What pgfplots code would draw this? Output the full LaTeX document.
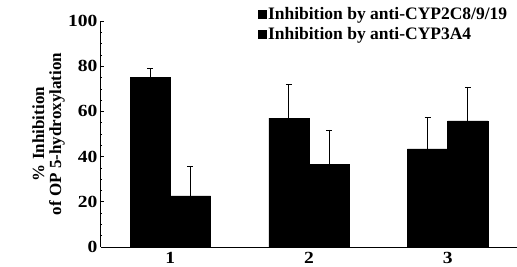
\documentclass[border=0pt]{standalone}
\usepackage{pgfplots}
\pgfplotsset{compat=1.18}
\usepackage{fontspec}
\setmainfont{Liberation Serif}
\newfontfamily\tfont{Liberation Serif}[FakeStretch=1.15]
\begin{document}
\begin{tikzpicture}
\begin{axis}[
  scale only axis, width=416pt, height=226pt,
  xmin=0.5, xmax=3.5, ymin=0, ymax=100,
  axis x line=bottom, axis y line=left,
  axis line style={-, line width=1pt},
  ytick={0,20,...,100}, xtick={1,2,3},
  xticklabels={1,2,3},
  minor y tick num=3,
  tick align=inside, major tick length=3.5pt, minor tick length=1.5pt,
  ytick style={black, line width=0.8pt},
  minor y tick style={black, line width=0.5pt},
  xtick style={draw=none},
  /pgf/number format/assume math mode=true,
  ticklabel style={font=\tfont\fontsize{17}{20}\selectfont\bfseries},
  xticklabel style={anchor=base, inner sep=0pt, text depth=0pt, yshift=-12.5pt},
  ybar=0pt, bar width=0.29,
  ylabel={\% Inhibition\\of OP 5-hydroxylation},
  ylabel style={at={(axis description cs:-0.126,0.5)}, anchor=center, align=center, font=\fontsize{17}{17}\selectfont\bfseries},
  legend style={draw=none, fill=none, at={(axis description cs:0.376,0.985)}, anchor=west, inner sep=0pt, row sep=2pt, font=\fontsize{17.5}{18}\selectfont\bfseries},
  legend cell align=left,
  legend image code/.code={\fill[black] (0pt,-4pt) rectangle (8pt,4pt);},
]
\coordinate (O) at (rel axis cs:0,0);
\addplot+[fill=black, draw=black, mark=none,
  error bars/.cd, y dir=plus, y explicit,
  error bar style={black, line width=0.8pt},
  error mark options={black, rotate=90, mark size=3pt, line width=0.8pt}]
  coordinates {(1,75.2) +- (0,4.0) (2,57.0) +- (0,15.0) (3,43.4) +- (0,14.1)};
\addplot+[fill=black, draw=black, mark=none,
  error bars/.cd, y dir=plus, y explicit,
  error bar style={black, line width=0.8pt},
  error mark options={black, rotate=90, mark size=3pt, line width=0.8pt}]
  coordinates {(1,22.6) +- (0,13.2) (2,36.7) +- (0,15.1) (3,55.8) +- (0,15.0)};
\legend{Inhibition by anti-CYP2C8/9/19, Inhibition by anti-CYP3A4}
\end{axis}
\pgfresetboundingbox
\path (O) ++(-101pt,-19pt) rectangle ++(517pt,266pt);
\end{tikzpicture}
\end{document}
